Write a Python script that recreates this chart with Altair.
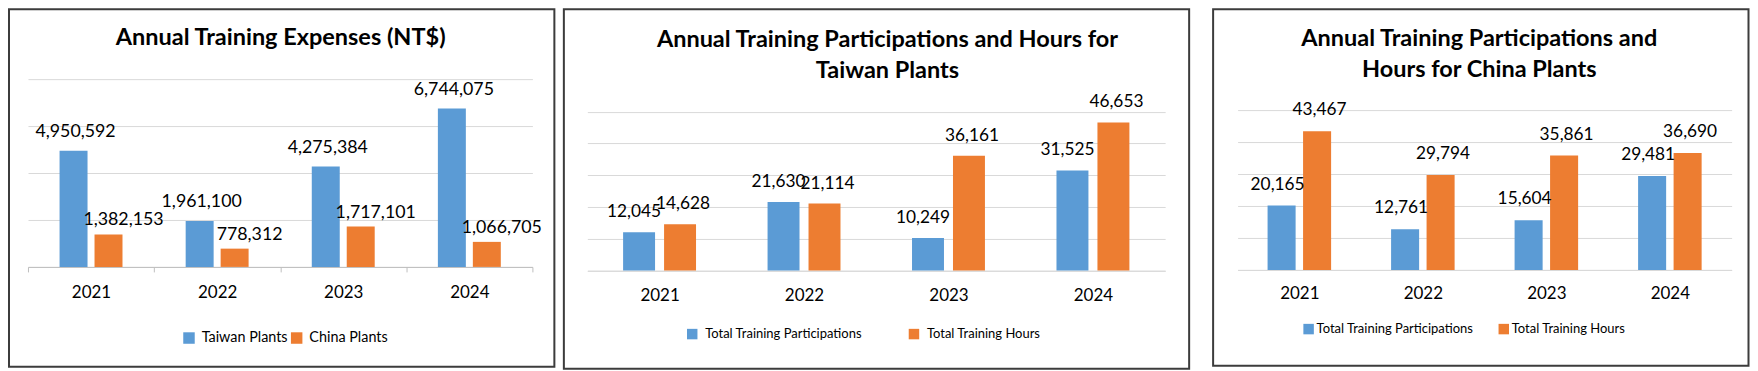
import altair as alt
import pandas as pd

# ---------------- data ----------------
years = ["2021", "2022", "2023", "2024"]

exp_series = ["Taiwan Plants", "China Plants"]
exp_taiwan = [4950592, 1961100, 4275384, 6744075]
exp_china = [1382153, 778312, 1717101, 1066705]
exp_ticks = [0, 2000000, 4000000, 6000000, 8000000]

part_series = ["Total Training Participations", "Total Training Hours"]
tw_participations = [12045, 21630, 10249, 31525]
tw_hours = [14628, 21114, 36161, 46653]
cn_participations = [20165, 12761, 15604, 29481]
cn_hours = [43467, 29794, 35861, 36690]
part_ticks = [0, 10000, 20000, 30000, 40000, 50000]

titles = [
    "Annual Training Expenses (NT$)",
    "Annual Training Participations and Hours for\nTaiwan Plants",
    "Annual Training Participations and\nHours for China Plants",
]

BLUE = "#5b9bd5"
ORANGE = "#ed7d31"
FONT = "Lato"


def long_table(series, a, b):
    rows = []
    for i, yr in enumerate(years):
        rows.append({"year": yr, "series": series[0], "value": a[i]})
        rows.append({"year": yr, "series": series[1], "value": b[i]})
    return pd.DataFrame(rows)


def panel(df, series, ticks, title, L):
    x = alt.X(
        "year:N", sort=years,
        scale=alt.Scale(paddingInner=0, paddingOuter=0),
        axis=alt.Axis(
            title=None, labelFont=FONT, labelFontSize=17, labelColor="black",
            labelAngle=0, labelBaseline="middle", labelPadding=L["lab_pad"],
            domainColor=L["domain_color"], domainWidth=1,
            ticks=L["ticks"], tickSize=L["tick_size"], tickColor="#bfbfbf",
            tickBand="extent", grid=False,
        ),
    )
    xo = alt.XOffset(
        "series:N", sort=series,
        scale=alt.Scale(paddingInner=L["pi"], paddingOuter=L["po"]),
    )
    y = alt.Y(
        "value:Q",
        scale=alt.Scale(domain=[0, L["ymax"]], nice=False),
        axis=alt.Axis(title=None, values=ticks, labels=False, ticks=False,
                      domain=False, grid=True, gridColor="#d9d9d9", gridWidth=1),
    )
    color = alt.Color(
        "series:N", sort=series, title=None,
        scale=alt.Scale(domain=series, range=[BLUE, ORANGE]),
        legend=alt.Legend(
            orient="none", legendX=L["lx"], legendY=L["ly"], direction="horizontal",
            symbolType="square", symbolSize=L["ss"], symbolStrokeWidth=0,
            labelFont=FONT, labelFontSize=L["lfs"], labelColor="black",
            labelOffset=L["lo"], columnPadding=L["cp"], padding=0, offset=0,
        ),
    )
    one = alt.Data(values=[{}])
    border = alt.Chart(one).mark_rect(
        fillOpacity=0, stroke="#3c3c3c", strokeWidth=2
    ).encode(
        x=alt.value(L["bx1"]), x2=alt.value(L["bx2"]),
        y=alt.value(-70), y2=alt.value(L["by2"]),
    )
    head = alt.Chart(one).mark_text(
        font=FONT, fontSize=23.5, fontWeight="bold", lineBreak="\n", lineHeight=31,
        align="center", baseline="middle", color="black",
    ).encode(x=alt.value(L["tx"]), y=alt.value(L["ty"]), text=alt.value(title))

    base = alt.Chart(df)
    bars = base.mark_bar().encode(x=x, xOffset=xo, y=y, color=color)
    labels = []
    for s, dx, gap in zip(series, L["dx"], L["gap"]):
        labels.append(
            base.transform_filter(alt.datum.series == s)
            .mark_text(font=FONT, fontSize=L["vfs"], color="black",
                       baseline="alphabetic", align="center", dx=dx, dy=-gap)
            .encode(x=x, xOffset=xo, y=y, text=alt.Text("value:Q", format=","))
        )
    return alt.layer(border, head, bars, *labels).properties(width=L["w"], height=L["h"])


# all plot areas start at the same top; the scale maximum keeps the gridlines in place
L1 = dict(w=505, h=188, ymax=8000000, bx1=-19, bx2=527, by2=288, tx=253, ty=-41,
          lab_pad=21, domain_color="#bfbfbf", ticks=True, tick_size=5,
          pi=0.2, po=0.9036, lx=154, ly=251.8, ss=132, lfs=14.4, lo=5.5, cp=1.8,
          vfs=17.8, dx=[2, 15], gap=[14, 9])
L2 = dict(w=578.5, h=191.7, ymax=60283, bx1=-23.5, bx2=602.5, by2=290, tx=300.5, ty=-39,
          lab_pad=25.3, domain_color="#d9d9d9", ticks=False, tick_size=0,
          pi=0.22, po=0.873, lx=98.5, ly=248.5, ss=110, lfs=13, lo=6.5, cp=45,
          vfs=17.3, dx=[-5, 3], gap=[15, 15])
L3 = dict(w=494.6, h=191, ymax=59837, bx1=-24.5, bx2=511.5, by2=287, tx=242, ty=-40,
          lab_pad=24, domain_color="#d9d9d9", ticks=False, tick_size=0,
          pi=0.21, po=0.845, lx=64.6, ly=243.5, ss=110, lfs=13, lo=1.5, cp=23.4,
          vfs=17.3, dx=[-4, 2.5], gap=[16, 16])

p1 = panel(long_table(exp_series, exp_taiwan, exp_china), exp_series, exp_ticks, titles[0], L1)
p2 = panel(long_table(part_series, tw_participations, tw_hours), part_series, part_ticks, titles[1], L2)
p3 = panel(long_table(part_series, cn_participations, cn_hours), part_series, part_ticks, titles[2], L3)

left = alt.hconcat(p1, p2, spacing=7).resolve_scale(
    color="independent", x="independent", y="independent", xOffset="independent"
).resolve_legend(color="independent")

chart = alt.hconcat(left, p3, spacing=21).resolve_scale(
    color="independent", x="independent", y="independent", xOffset="independent"
).resolve_legend(color="independent").properties(
    padding=0, background="white"
).configure_view(stroke=None)

chart.save("out.html", embed_options={"renderer": "svg", "actions": False})
